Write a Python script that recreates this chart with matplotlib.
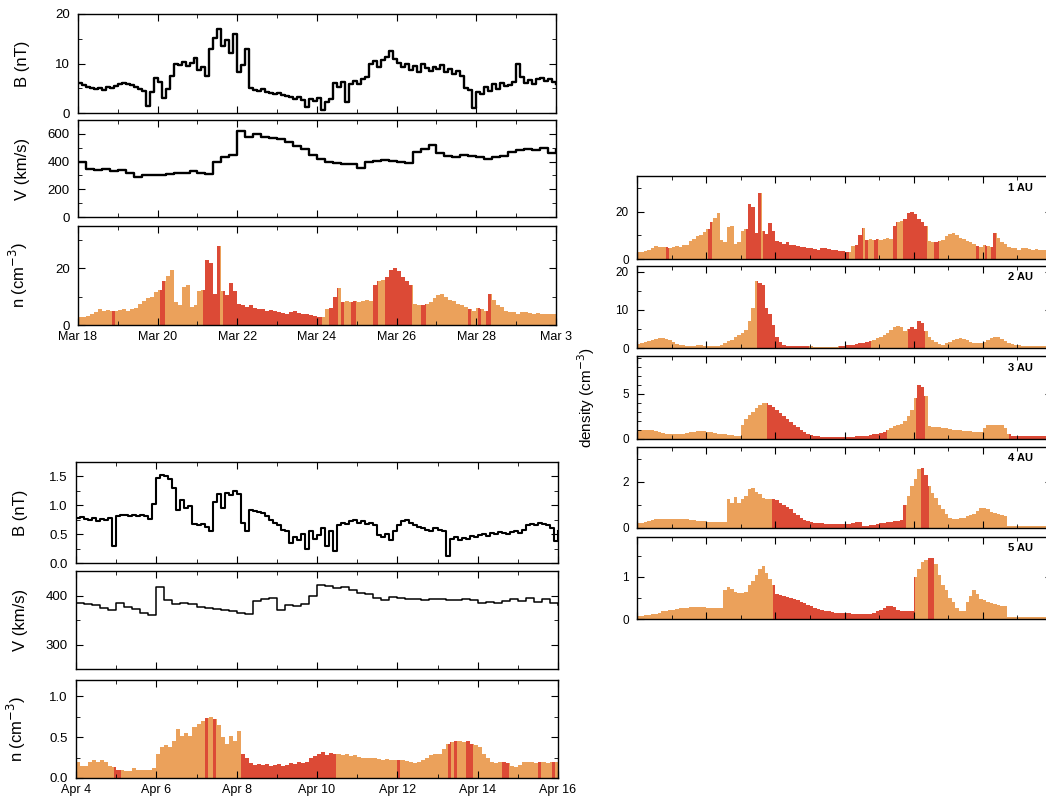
import matplotlib

matplotlib.use("Agg")
import matplotlib.pyplot as plt
import numpy as np
from matplotlib.patches import Rectangle
from matplotlib.ticker import FormatStrFormatter, MultipleLocator

plt.rcParams["font.family"] = ["Liberation Sans", "DejaVu Sans"]

# --- data: 12-day windows, values per step (days) -------------------------
DT_FINE = 0.1
DT_COARSE = 0.2

mar_ticklabels = ["Mar 18", "Mar 20", "Mar 22", "Mar 24", "Mar 26", "Mar 28", "Mar 3"]
apr_ticklabels = ["Apr 4", "Apr 6", "Apr 8", "Apr 10", "Apr 12", "Apr 14", "Apr 16"]

# 1 AU, Mar 18 - Mar 30
b_mar = [6.0, 5.6, 5.3, 5.0, 4.8, 5.1, 4.7, 5.2, 5.0, 5.4,
         5.8, 6.1, 5.9, 5.6, 5.3, 4.9, 4.4, 1.5, 4.2, 7.0,
         6.2, 3.0, 4.8, 7.5, 10.0, 9.6, 10.3, 9.4, 10.1, 11.2,
         8.6, 9.2, 7.5, 13.0, 15.2, 17.0, 13.5, 14.8, 12.2, 16.0,
         8.2, 9.6, 13.0, 5.0, 4.7, 4.4, 4.9, 4.2, 4.0, 3.8,
         4.1, 3.7, 3.5, 3.2, 2.8, 3.3, 2.6, 1.2, 2.9, 2.4,
         3.0, 0.6, 2.2, 2.8, 6.0, 5.2, 6.3, 2.2, 5.8, 6.5,
         5.9, 6.8, 7.3, 9.8, 10.5, 9.2, 10.8, 11.3, 12.5, 11.0,
         10.2, 9.3, 10.0, 8.6, 9.5, 8.2, 9.8, 9.0, 8.4, 9.3,
         8.8, 9.6, 8.3, 8.9, 7.9, 8.4, 7.5, 5.0, 4.6, 1.0,
         4.3, 3.8, 5.2, 4.5, 5.8, 4.9, 6.0, 5.4, 5.7, 6.2,
         10.0, 7.2, 6.1, 6.6, 5.8, 6.9, 7.0, 6.4, 6.8, 6.2, 5.9]
v_mar = [400, 345, 340, 345, 335, 340, 320, 290, 300, 300,
         305, 310, 315, 320, 330, 320, 310, 400, 430, 450,
         620, 580, 600, 580, 570, 560, 540, 510, 490, 450,
         420, 400, 390, 385, 380, 355, 400, 405, 410, 405,
         400, 390, 470, 490, 520, 460, 440, 430, 450, 440,
         430, 420, 430, 440, 470, 480, 490, 485, 500, 460, 480]
n_mar = [3.0, 3.0, 3.2, 4.0, 4.5, 5.5, 5.0, 5.2, 5.0, 4.8,
         5.2, 5.5, 5.0, 5.8, 6.0, 7.5, 8.5, 9.5, 10.0, 11.5,
         12.5, 15.5, 17.5, 19.5, 8.0, 7.0, 13.5, 14.0, 6.5, 7.0,
         12.0, 12.5, 23.0, 22.0, 11.0, 28.0, 12.0, 10.5, 15.0, 12.0,
         7.5, 7.0, 6.5, 7.0, 6.0, 5.8, 5.5, 5.0, 5.2, 4.8,
         4.5, 4.2, 4.0, 4.5, 4.8, 4.2, 4.0, 3.8, 3.5, 3.2,
         3.0, 3.0, 5.5, 6.0, 10.0, 13.0, 8.0, 8.5, 8.0, 8.5,
         8.0, 8.5, 9.0, 8.5, 14.0, 15.5, 16.0, 17.0, 19.5, 20.0,
         19.0, 17.0, 15.5, 14.0, 7.5, 7.0, 7.2, 7.5, 8.0, 9.5,
         10.5, 11.0, 10.0, 9.0, 8.5, 7.5, 7.0, 6.5, 5.5, 5.0,
         6.0, 5.5, 5.0, 11.0, 9.0, 7.0, 6.5, 5.0, 4.5, 4.5,
         4.0, 4.5, 4.5, 4.2, 4.0, 4.3, 4.0, 3.8, 4.0, 3.8, 3.8]
n_mar_red = [(0.85, 0.9), (2.05, 2.15), (3.15, 3.55), (3.65, 6.1), (6.3, 6.5),
             (6.6, 6.65), (6.85, 6.95), (7.4, 7.5), (7.7, 8.35), (8.6, 8.7),
             (9.8, 9.85), (10.05, 10.1), (10.25, 10.35)]

# Ulysses-like window, Apr 4 - Apr 16
b_apr = [0.78, 0.80, 0.76, 0.75, 0.78, 0.73, 0.76, 0.74, 0.78, 0.30,
         0.82, 0.84, 0.83, 0.82, 0.84, 0.82, 0.83, 0.81, 0.76, 1.02,
         1.48, 1.52, 1.50, 1.45, 1.30, 0.92, 1.10, 0.95, 0.98, 0.68,
         0.65, 0.68, 0.62, 0.55, 1.05, 1.20, 0.95, 1.22, 1.18, 1.25,
         1.20, 0.70, 0.55, 0.92, 0.90, 0.88, 0.86, 0.82, 0.74, 0.70,
         0.65, 0.58, 0.55, 0.35, 0.45, 0.40, 0.50, 0.25, 0.55, 0.42,
         0.48, 0.60, 0.30, 0.55, 0.20, 0.65, 0.70, 0.68, 0.72, 0.75,
         0.70, 0.72, 0.68, 0.70, 0.66, 0.48, 0.45, 0.50, 0.40, 0.55,
         0.65, 0.72, 0.74, 0.70, 0.65, 0.62, 0.60, 0.58, 0.56, 0.60,
         0.58, 0.55, 0.12, 0.42, 0.45, 0.40, 0.44, 0.42, 0.46, 0.45,
         0.48, 0.50, 0.47, 0.52, 0.50, 0.54, 0.52, 0.50, 0.53, 0.55,
         0.52, 0.58, 0.65, 0.68, 0.66, 0.70, 0.68, 0.65, 0.60, 0.38, 0.55]
v_apr = [384, 382, 380, 374, 370, 385, 376, 372, 364, 360,
         418, 390, 383, 384, 382, 377, 374, 372, 370, 368,
         364, 362, 388, 392, 394, 370, 380, 378, 382, 398,
         422, 420, 416, 418, 412, 406, 403, 394, 391, 396,
         394, 392, 393, 390, 392, 393, 391, 390, 392, 390,
         385, 386, 385, 388, 392, 388, 394, 386, 392, 384, 380]
n_apr = [0.20, 0.15, 0.15, 0.20, 0.22, 0.20, 0.22, 0.20, 0.15, 0.13,
         0.10, 0.10, 0.08, 0.08, 0.12, 0.10, 0.10, 0.10, 0.10, 0.12,
         0.30, 0.38, 0.40, 0.38, 0.45, 0.60, 0.52, 0.55, 0.52, 0.62,
         0.66, 0.70, 0.74, 0.75, 0.72, 0.65, 0.50, 0.42, 0.52, 0.45,
         0.58, 0.30, 0.25, 0.18, 0.16, 0.17, 0.16, 0.17, 0.15, 0.16,
         0.17, 0.15, 0.16, 0.18, 0.17, 0.19, 0.18, 0.20, 0.24, 0.27,
         0.30, 0.32, 0.28, 0.31, 0.30, 0.30, 0.28, 0.30, 0.27, 0.28,
         0.26, 0.25, 0.24, 0.25, 0.24, 0.23, 0.22, 0.23, 0.22, 0.22,
         0.22, 0.22, 0.21, 0.20, 0.18, 0.20, 0.22, 0.24, 0.28, 0.30,
         0.30, 0.36, 0.42, 0.44, 0.45, 0.45, 0.44, 0.45, 0.42, 0.40,
         0.38, 0.30, 0.25, 0.20, 0.18, 0.20, 0.20, 0.18, 0.15, 0.14,
         0.16, 0.20, 0.20, 0.19, 0.18, 0.20, 0.20, 0.18, 0.20, 0.19, 0.20]
n_apr_red = [(0.95, 1.1), (3.2, 3.25), (3.4, 3.45), (4.1, 6.45), (8.0, 8.05),
             (9.25, 9.3), (9.4, 9.45), (9.7, 9.85), (10.6, 10.75), (11.5, 11.55),
             (11.85, 11.9)]

# model density at 2-5 AU
n_2au = [1.0, 1.2, 1.5, 1.8, 2.0, 2.3, 2.5, 2.6, 2.3, 2.0,
         1.5, 1.0, 0.8, 0.7, 0.6, 0.6, 0.6, 0.7, 0.7, 0.6,
         0.6, 0.6, 0.5, 0.5, 0.8, 1.2, 1.8, 2.2, 2.8, 3.5,
         4.0, 4.8, 7.0, 10.5, 17.5, 17.0, 16.5, 10.5, 9.0, 6.0,
         3.0, 1.5, 0.8, 0.6, 0.6, 0.6, 0.6, 0.6, 0.6, 0.5,
         0.4, 0.3, 0.3, 0.3, 0.3, 0.3, 0.3, 0.3, 0.4, 0.5,
         0.7, 0.8, 0.9, 1.0, 1.2, 1.4, 1.5, 1.8, 2.2, 2.6,
         3.0, 3.5, 4.0, 4.8, 5.5, 5.8, 5.5, 4.5, 5.0, 5.5,
         5.0, 7.2, 6.5, 4.5, 3.0, 2.0, 1.5, 1.0, 0.9, 1.2,
         1.6, 2.0, 2.4, 2.5, 2.3, 2.0, 1.6, 1.3, 1.2, 1.2,
         1.5, 2.0, 2.5, 2.9, 2.8, 2.4, 1.8, 1.2, 1.0, 0.8,
         0.7, 0.6, 0.6, 0.5, 0.5, 0.5, 0.5, 0.4, 0.4, 0.4, 0.4]
n_2au_red = [(3.47, 4.95), (5.85, 6.75), (7.85, 8.3)]

n_3au = [1.0, 1.0, 1.0, 1.0, 1.0, 0.9, 0.8, 0.7, 0.6, 0.6,
         0.5, 0.5, 0.5, 0.6, 0.7, 0.8, 0.8, 0.9, 0.9, 0.9,
         0.8, 0.8, 0.7, 0.6, 0.5, 0.5, 0.4, 0.4, 0.3, 0.3,
         1.5, 2.2, 2.7, 3.0, 3.4, 3.8, 4.0, 4.0, 3.8, 3.6,
         3.2, 2.9, 2.6, 2.2, 1.9, 1.6, 1.3, 1.0, 0.8, 0.6,
         0.4, 0.3, 0.3, 0.2, 0.2, 0.2, 0.2, 0.2, 0.2, 0.2,
         0.2, 0.2, 0.2, 0.3, 0.3, 0.3, 0.3, 0.4, 0.5, 0.6,
         0.7, 0.8, 1.0, 1.2, 1.4, 1.5, 1.7, 2.0, 2.5, 3.2,
         4.5, 6.0, 5.8, 4.8, 1.4, 1.3, 1.3, 1.3, 1.2, 1.2,
         1.1, 1.0, 1.0, 1.0, 0.9, 0.9, 0.9, 0.8, 0.8, 0.8,
         1.2, 1.5, 1.6, 1.6, 1.6, 1.5, 1.2, 0.6, 0.3, 0.3,
         0.3, 0.3, 0.3, 0.3, 0.3, 0.3, 0.3, 0.3, 0.3, 0.3, 0.3]
n_3au_red = [(3.75, 7.2), (8.07, 8.3), (10.75, 12.0)]

n_4au = [0.20, 0.22, 0.25, 0.30, 0.35, 0.38, 0.40, 0.40, 0.40, 0.40,
         0.40, 0.40, 0.40, 0.38, 0.38, 0.35, 0.33, 0.32, 0.30, 0.30,
         0.28, 0.25, 0.25, 0.25, 0.25, 0.25, 1.25, 1.10, 1.35, 1.10,
         1.25, 1.40, 1.70, 1.75, 1.55, 1.45, 1.30, 1.25, 1.25, 1.25,
         1.20, 1.10, 1.00, 0.90, 0.80, 0.65, 0.55, 0.45, 0.35, 0.30,
         0.25, 0.22, 0.20, 0.20, 0.18, 0.18, 0.18, 0.16, 0.16, 0.16,
         0.16, 0.18, 0.20, 0.25, 0.25, 0.10, 0.10, 0.12, 0.15, 0.18,
         0.20, 0.22, 0.25, 0.28, 0.30, 0.32, 0.35, 1.00, 1.40, 1.80,
         2.10, 2.55, 2.60, 2.30, 1.80, 1.50, 1.30, 1.00, 0.80, 0.60,
         0.45, 0.40, 0.40, 0.42, 0.45, 0.50, 0.55, 0.60, 0.75, 0.85,
         0.85, 0.80, 0.70, 0.65, 0.60, 0.55, 0.50, 0.10, 0.10, 0.10,
         0.10, 0.10, 0.10, 0.10, 0.10, 0.10, 0.10, 0.10, 0.10, 0.10, 0.10]
n_4au_red = [(3.9, 7.75), (8.2, 8.4)]

n_5au = [0.08, 0.08, 0.10, 0.10, 0.12, 0.12, 0.15, 0.18, 0.20, 0.22,
         0.22, 0.24, 0.25, 0.26, 0.27, 0.28, 0.28, 0.28, 0.28, 0.28,
         0.27, 0.27, 0.26, 0.26, 0.25, 0.70, 0.75, 0.72, 0.65, 0.62,
         0.62, 0.65, 0.80, 0.90, 1.05, 1.20, 1.25, 1.10, 0.95, 0.80,
         0.60, 0.58, 0.55, 0.52, 0.50, 0.47, 0.44, 0.40, 0.37, 0.34,
         0.30, 0.27, 0.24, 0.22, 0.20, 0.18, 0.16, 0.15, 0.15, 0.15,
         0.14, 0.14, 0.13, 0.13, 0.12, 0.12, 0.12, 0.13, 0.15, 0.18,
         0.22, 0.26, 0.30, 0.32, 0.28, 0.22, 0.20, 0.20, 0.20, 0.20,
         1.00, 1.20, 1.35, 1.40, 1.45, 1.45, 1.30, 1.05, 0.80, 0.70,
         0.50, 0.40, 0.25, 0.20, 0.20, 0.40, 0.55, 0.68, 0.60, 0.48,
         0.45, 0.40, 0.38, 0.35, 0.33, 0.32, 0.30, 0.05, 0.05, 0.05,
         0.05, 0.05, 0.05, 0.05, 0.05, 0.05, 0.05, 0.05, 0.05, 0.05, 0.05]
n_5au_red = [(3.94, 8.0), (8.4, 8.55)]

ORANGE = "#EBA15B"
RED = "#DC4A36"
W, H = 1046, 800


def add_axes_px(fig, left, top, right, bottom):
    """ピクセル座標でAxesを追加"""
    return fig.add_axes([left / W, 1 - bottom / H, (right - left) / W, (bottom - top) / H])


def style_axes(ax, ymax, major, minor, ymin=0, fmt=None):
    ax.set_xlim(0, 12)
    ax.set_ylim(ymin, ymax)
    ax.yaxis.set_major_locator(MultipleLocator(major))
    ax.yaxis.set_minor_locator(MultipleLocator(minor))
    ax.xaxis.set_major_locator(MultipleLocator(2))
    ax.xaxis.set_minor_locator(MultipleLocator(1))
    if fmt:
        ax.yaxis.set_major_formatter(FormatStrFormatter(fmt))
    ax.tick_params(which="both", direction="in", top=True, right=True, labelsize=9.5, pad=6)
    ax.tick_params(which="major", length=5)
    ax.tick_params(which="minor", length=3)
    ax.tick_params(axis="x", labelbottom=False)
    for sp in ax.spines.values():
        sp.set_linewidth(1.0)


def draw_line(ax, vals, dt, lw=1.3):
    t = np.arange(len(vals)) * dt
    ax.step(t, vals, where="post", color="black", lw=lw)


def draw_density(ax, vals, red_spans, ymax):
    t = np.arange(len(vals)) * DT_FINE
    ax.fill_between(t, vals, step="post", color=ORANGE, lw=0)
    for a, b in red_spans:
        poly = ax.fill_between(t, vals, step="post", color=RED, lw=0)
        poly.set_clip_path(Rectangle((a, 0), b - a, ymax, transform=ax.transData))


fig = plt.figure(figsize=(W / 100, H / 100), dpi=100)

# --- top-left: 1 AU observations ------------------------------------------
ax_b1 = add_axes_px(fig, 78, 14, 556, 113)
draw_line(ax_b1, b_mar, DT_FINE, lw=1.7)
style_axes(ax_b1, 20, 10, 5)
ax_b1.set_ylabel("B (nT)", fontsize=12)

ax_v1 = add_axes_px(fig, 78, 120, 556, 217)
draw_line(ax_v1, v_mar, DT_COARSE, lw=1.7)
style_axes(ax_v1, 700, 200, 100)
ax_v1.set_ylabel("V (km/s)", fontsize=12)

ax_n1 = add_axes_px(fig, 78, 226, 556, 325)
draw_density(ax_n1, n_mar, n_mar_red, 35)
style_axes(ax_n1, 35, 20, 10)
ax_n1.set_ylabel("n (cm$^{-3}$)", fontsize=12)
ax_n1.tick_params(axis="x", labelbottom=True, pad=4)
ax_n1.set_xticks(np.arange(0, 13, 2))
ax_n1.set_xticklabels(mar_ticklabels, fontsize=9)

for ax in (ax_b1, ax_v1, ax_n1):
    ax.yaxis.set_label_coords(-0.10, 0.5)

# --- bottom-left: outer heliosphere observations --------------------------
ax_b2 = add_axes_px(fig, 76, 462, 558, 563)
draw_line(ax_b2, b_apr, DT_FINE, lw=1.5)
style_axes(ax_b2, 1.75, 0.5, 0.25, fmt="%.1f")
ax_b2.set_ylabel("B (nT)", fontsize=12)

ax_v2 = add_axes_px(fig, 76, 571, 558, 669)
draw_line(ax_v2, v_apr, DT_COARSE, lw=1.1)
style_axes(ax_v2, 450, 100, 50, ymin=250)
ax_v2.set_ylabel("V (km/s)", fontsize=12)

ax_n2 = add_axes_px(fig, 76, 680, 558, 778)
draw_density(ax_n2, n_apr, n_apr_red, 1.2)
style_axes(ax_n2, 1.2, 0.5, 0.25, fmt="%.1f")
ax_n2.set_ylabel("n (cm$^{-3}$)", fontsize=12)
ax_n2.tick_params(axis="x", labelbottom=True, pad=4)
ax_n2.set_xticks(np.arange(0, 13, 2))
ax_n2.set_xticklabels(apr_ticklabels, fontsize=9)

for ax in (ax_b2, ax_v2, ax_n2):
    ax.yaxis.set_label_coords(-0.10, 0.5)

# --- right: density at 1-5 AU (panel runs past the figure edge) -----------
right_panels = [
    ("1 AU", n_mar, n_mar_red, 35, 20, 10, 176, 259),
    ("2 AU", n_2au, n_2au_red, 21.5, 10, 5, 266, 348),
    ("3 AU", n_3au, n_3au_red, 9.2, 5, 1, 356, 439),
    ("4 AU", n_4au, n_4au_red, 3.5, 2, 1, 447, 528),
    ("5 AU", n_5au, n_5au_red, 1.95, 1, 0.5, 537, 619),
]
for label, vals, reds, ymax, major, minor, top, bottom in right_panels:
    ax = add_axes_px(fig, 637, top, 1052, bottom)
    draw_density(ax, vals, reds, ymax)
    style_axes(ax, ymax, major, minor)
    ax.tick_params(labelsize=8.5)
    ax.text(0.955, 0.86, label, transform=ax.transAxes, ha="right", va="center",
            fontsize=8, fontweight="bold")
    if label == "3 AU":
        ax.set_ylabel("density (cm$^{-3}$)", fontsize=11)
        ax.yaxis.set_label_coords(-0.096, 0.5)

fig.savefig("out.png", dpi=100)
